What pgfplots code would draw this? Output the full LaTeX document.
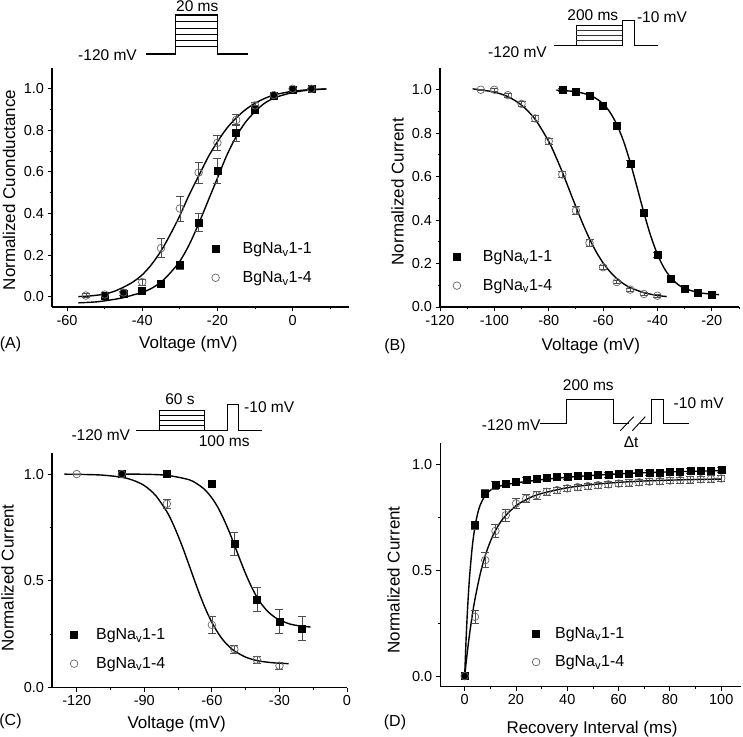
\documentclass[border=0pt]{standalone}
\usepackage{pgfplots}
\pgfplotsset{compat=1.18}
\usepackage{fontspec}
\setmainfont{Liberation Sans}

\newcommand{\fA}{\fontsize{14.5}{16}\selectfont}
\newcommand{\fT}{\fontsize{17}{20}\selectfont}
\newcommand{\fL}{\fontsize{16}{19}\selectfont}
\newcommand{\fP}{\fontsize{15.5}{18}\selectfont}

\pgfplotsset{
  panel/.style={
    scale only axis,
    anchor=south west,
    axis x line*=bottom, axis y line*=left,
    tick align=outside,
    major tick length=4.5pt, minor tick length=2.5pt,
    axis line style={line width=1.1pt},
    every tick/.style={line width=0.9pt, black},
    tick label style={font=\fA},
    /pgf/number format/assume math mode=true,
    y tick label style={/pgf/number format/.cd, fixed, fixed zerofill, precision=1, /tikz/.cd},
    legend style={draw=none, fill=none, inner sep=0pt, outer sep=0pt, row sep=14pt,
      nodes={inner sep=1pt, font=\fL}},
    legend cell align=left,
  },
  sq/.style={only marks, mark=square*, mark size=3.5pt, black, mark options={fill=black, draw=black, line width=0.5pt},
    legend image code/.code={\path[draw=none, fill=none] (-5pt,-3pt) (#1,3pt);
      \draw[mark repeat=2,mark phase=2,##1] plot coordinates {(-5pt,0pt) (0pt,0pt) (#1,0pt)};},
    error bars/.cd, y dir=both, y explicit, error bar style={line width=0.6pt, black!70},
    error mark options={rotate=90, mark size=4pt, line width=0.6pt, black!70}},
  ci/.style={only marks, mark=o, mark size=3.8pt, black!60, mark options={draw=black!60, line width=0.7pt},
    legend image code/.code={\path[draw=none, fill=none] (-5pt,-3pt) (#1,3pt);
      \draw[mark repeat=2,mark phase=2,##1] plot coordinates {(-5pt,0pt) (0pt,0pt) (#1,0pt)};},
    error bars/.cd, y dir=both, y explicit, error bar style={line width=0.6pt, black!70},
    error mark options={rotate=90, mark size=4pt, line width=0.6pt, black!70}},
  fit/.style={black, line width=1.4pt, no marks, smooth, forget plot},
}

\begin{document}
\begin{tikzpicture}
\path[use as bounding box] (0,0) rectangle (743pt,736pt);

% ================= Panel A =================
\begin{axis}[panel, at={(52pt,429pt)}, width=297pt, height=239pt,
  xmin=-64, xmax=15, ymin=-0.05, ymax=1.1,
  xtick={-60,-40,-20,0}, minor xtick={-50,-30,-10,10},
  ytick={0,0.2,0.4,0.6,0.8,1.0}, minor ytick={0.1,0.3,0.5,0.7,0.9},
  legend style={at={(rel axis cs:0.534,0.182)}, anchor=west}]
\addplot[fit] coordinates {(-57,-0.03) (-52,-0.025) (-48,-0.015) (-45,-0.005) (-42,0.01) (-40,0.02) (-37.5,0.04) (-35,0.07) (-32.5,0.115) (-30,0.17) (-27.5,0.25) (-25,0.35) (-22.5,0.46) (-20,0.57) (-17.5,0.68) (-15,0.77) (-12.5,0.84) (-10,0.89) (-7.5,0.93) (-5,0.955) (-2.5,0.97) (0,0.982) (3,0.991) (6,0.996) (9,0.999)};
\addplot[fit] coordinates {(-57,0.0) (-54,0.003) (-50,0.012) (-47.5,0.025) (-45,0.045) (-42.5,0.07) (-40,0.105) (-37.5,0.155) (-35,0.22) (-32.5,0.30) (-30,0.39) (-27.5,0.49) (-25,0.58) (-22.5,0.67) (-20,0.745) (-17.5,0.81) (-15,0.86) (-12.5,0.90) (-10,0.93) (-7.5,0.953) (-5,0.97) (-2.5,0.98) (0,0.988) (4,0.995) (9,0.999)};
\addplot[sq=26pt] table[x=x, y=y, y error=e] {
x y e
-50 0.006 0.005
-45 0.016 0.008
-40 0.027 0.01
-35 0.064 0.012
-30 0.152 0.02
-25 0.357 0.045
-20 0.604 0.06
-15 0.789 0.04
-10 0.900 0.02
-5 0.965 0.01
0 0.995 0.005
5 0.998 0.003
};
\addlegendentry{BgNa\textsubscript{v}1-1}
\addplot[ci=26pt] table[x=x, y=y, y error=e] {
x y e
-55 0.005 0.01
-50 0.01 0.012
-45 0.02 0.015
-40 0.07 0.015
-35 0.233 0.046
-30 0.424 0.06
-25 0.597 0.05
-20 0.74 0.035
-15 0.85 0.025
-10 0.92 0.015
-5 0.97 0.01
0 1.0 0.005
5 1.0 0.003
};
\addlegendentry{BgNa\textsubscript{v}1-4}
\end{axis}

% ================= Panel B =================
\begin{axis}[panel, at={(440pt,429pt)}, width=299pt, height=239pt,
  xmin=-120, xmax=-10, ymin=0, ymax=1.1,
  xtick={-120,-100,-80,-60,-40,-20}, minor xtick={-110,-90,-70,-50,-30,-10},
  ytick={0,0.2,0.4,0.6,0.8,1.0}, minor ytick={0.1,0.3,0.5,0.7,0.9},
  legend style={at={(rel axis cs:0.040,0.149)}, anchor=west}]
\addplot[fit] coordinates {(-108,1.004) (-105,0.999) (-100,0.989) (-95,0.968) (-90,0.929) (-85,0.864) (-80,0.762) (-77.5,0.695) (-75,0.621) (-72.5,0.541) (-70,0.461) (-67.5,0.384) (-65,0.314) (-62.5,0.253) (-60,0.203) (-57.5,0.163) (-55,0.131) (-52.5,0.107) (-50,0.089) (-45,0.066) (-40,0.053) (-36.6,0.048)};
\addplot[fit] coordinates {(-77.2,0.998) (-70,0.991) (-65,0.975) (-62.5,0.959) (-60,0.935) (-57.5,0.897) (-55,0.841) (-52.5,0.764) (-50,0.665) (-47.5,0.551) (-45,0.434) (-42.5,0.328) (-40,0.242) (-37.5,0.178) (-35,0.134) (-32.5,0.104) (-30,0.0855) (-25,0.0665) (-20,0.059) (-17.3,0.057)};
\addplot[sq=25pt] table[x=x, y=y, y error=e] {
x y e
-75 1.0 0.005
-70 0.99 0.008
-65 0.974 0.01
-60 0.924 0.01
-55 0.832 0.012
-50 0.659 0.015
-45 0.433 0.015
-40 0.241 0.012
-35 0.13 0.01
-30 0.083 0.008
-25 0.065 0.006
-20 0.057 0.005
};
\addlegendentry{BgNa\textsubscript{v}1-1}
\addplot[ci=25pt] table[x=x, y=y, y error=e] {
x y e
-105 1.0 0.004
-100 1.0 0.005
-95 0.975 0.008
-90 0.935 0.012
-85 0.868 0.014
-80 0.763 0.015
-75 0.61 0.015
-70 0.444 0.018
-65 0.295 0.015
-60 0.183 0.01
-55 0.115 0.008
-50 0.08 0.007
-45 0.06 0.006
-40 0.052 0.006
};
\addlegendentry{BgNa\textsubscript{v}1-4}
\end{axis}

% ================= Panel C =================
\begin{axis}[panel, at={(52pt,48.3pt)}, width=295pt, height=235pt,
  xmin=-131, xmax=0, ymin=0, ymax=1.1,
  xtick={-120,-90,-60,-30,0}, minor xtick={-105,-75,-45,-15},
  ytick={0,0.5,1.0}, minor ytick={0.25,0.75},
  legend style={at={(rel axis cs:0.058,0.163)}, anchor=west}]
\addplot[fit] coordinates {(-101.5,1.0) (-90,0.999) (-80,0.994) (-70,0.973) (-65,0.943) (-62.5,0.92) (-60,0.888) (-57.5,0.847) (-55,0.795) (-52.5,0.735) (-50,0.668) (-47.5,0.599) (-45,0.533) (-42.5,0.474) (-40,0.424) (-37.5,0.385) (-35,0.355) (-32.5,0.333) (-30,0.317) (-25,0.297) (-20,0.288) (-16.2,0.284)};
\addplot[fit] coordinates {(-125.5,0.9995) (-110,0.996) (-100,0.985) (-95,0.971) (-90,0.946) (-85,0.90) (-80,0.824) (-77.5,0.772) (-75,0.711) (-72.5,0.643) (-70,0.57) (-67.5,0.496) (-65,0.425) (-62.5,0.361) (-60,0.306) (-57.5,0.26) (-55,0.2225) (-52.5,0.194) (-50,0.172) (-45,0.143) (-40,0.127) (-35,0.119) (-30,0.1146) (-25.9,0.1127)};
\addplot[sq=21pt] table[x=x, y=y, y error=e] {
x y e
-100 1.0 0.008
-80 1.0 0.005
-60 0.953 0.0
-50 0.674 0.053
-40 0.414 0.055
-30 0.31 0.055
-20 0.278 0.055
};
\addlegendentry{BgNa\textsubscript{v}1-1}
\addplot[ci=21pt] table[x=x, y=y, y error=e] {
x y e
-120 1.0 0.0
-100 1.0 0.0
-80 0.861 0.02
-60 0.294 0.038
-50 0.18 0.02
-40 0.13 0.015
-30 0.103 0.015
};
\addlegendentry{BgNa\textsubscript{v}1-4}
\end{axis}

% ================= Panel D =================
\begin{axis}[panel, at={(440.3pt,49.3pt)}, width=300.7pt, height=243.4pt,
  xmin=-9.5, xmax=107.7, ymin=-0.05, ymax=1.1,
  xtick={0,20,40,60,80,100}, minor xtick={10,30,50,70,90},
  ytick={0,0.5,1.0}, minor ytick={0.25,0.75},
  legend style={at={(rel axis cs:0.302,0.16)}, anchor=west}]
\addplot[fit] coordinates {(0,0) (0.5,0.159) (1,0.290) (1.5,0.397) (2,0.484) (3,0.616) (4,0.705) (5,0.765) (6,0.807) (8,0.854) (10,0.878) (12,0.891) (15,0.902) (20,0.913) (30,0.928) (40,0.9395) (50,0.9485) (60,0.9555) (70,0.961) (80,0.965) (90,0.968) (100,0.971)};
\addplot[fit] coordinates {(0,0) (1,0.111) (2,0.207) (3,0.291) (4,0.363) (6,0.480) (8,0.569) (10,0.636) (12,0.688) (15,0.745) (20,0.805) (25,0.8405) (30,0.863) (40,0.890) (50,0.9055) (60,0.9155) (70,0.922) (80,0.926) (90,0.929) (100,0.931)};
\addplot[sq=18pt] table[x=x, y=y, y error=e] {
x y e
0 0.0 0.005
4 0.713 0.02
8 0.863 0.02
12 0.902 0.018
16 0.91 0.015
20 0.918 0.015
24 0.926 0.015
28 0.934 0.015
32 0.938 0.012
36 0.942 0.012
40 0.944 0.012
44 0.946 0.012
48 0.948 0.012
52 0.95 0.012
56 0.952 0.012
60 0.955 0.012
64 0.957 0.012
68 0.96 0.012
72 0.961 0.012
76 0.963 0.012
80 0.965 0.012
84 0.967 0.012
88 0.968 0.012
92 0.97 0.012
96 0.971 0.012
100 0.973 0.012
};
\addlegendentry{BgNa\textsubscript{v}1-1}
\addplot[ci=18pt] table[x=x, y=y, y error=e] {
x y e
0 0.0 0.005
4 0.28 0.03
8 0.548 0.035
12 0.686 0.03
16 0.76 0.03
20 0.816 0.025
24 0.839 0.02
28 0.855 0.018
32 0.871 0.015
36 0.879 0.015
40 0.887 0.015
44 0.893 0.015
48 0.898 0.015
52 0.902 0.015
56 0.906 0.015
60 0.91 0.015
64 0.913 0.015
68 0.916 0.015
72 0.919 0.015
76 0.921 0.015
80 0.924 0.015
84 0.926 0.015
88 0.928 0.015
92 0.93 0.015
96 0.932 0.015
100 0.934 0.015
};
\addlegendentry{BgNa\textsubscript{v}1-4}
\end{axis}

% ================= Labels and protocols (pixel coordinates, y downwards) =================
\begin{scope}[shift={(0pt,736pt)}, x=1pt, y=-1pt]
  % axis titles
  \node[rotate=90, inner sep=0pt, font=\fT] at (9,190) {Normalized Cuonductance};
  \node[rotate=90, inner sep=0pt, font=\fT] at (397.5,191.7) {Normalized Current};
  \node[rotate=90, inner sep=0pt, font=\fT] at (7.5,578) {Normalized Current};
  \node[rotate=90, inner sep=0pt, font=\fT] at (393.5,580) {Normalized Current};
  \node[inner sep=0pt, font=\fT] at (188.3,344) {Voltage (mV)};
  \node[inner sep=0pt, font=\fT] at (590.8,346) {Voltage (mV)};
  \node[inner sep=0pt, font=\fT] at (176.7,724) {Voltage (mV)};
  \node[inner sep=0pt, font=\fT] at (592,729) {Recovery Interval (ms)};
  % panel letters
  \node[inner sep=0pt, font=\fL] at (10.5,344) {(A)};
  \node[inner sep=0pt, font=\fL] at (395,346) {(B)};
  \node[inner sep=0pt, font=\fL] at (10.5,721) {(C)};
  \node[inner sep=0pt, font=\fL] at (395,722) {(D)};

  % protocol A
  \draw[line width=1.2pt] (145.7,54) -- (175.7,54) -- (175.7,15) -- (217.3,15) -- (217.3,54) -- (248.3,54);
  \foreach \yy in {21.7,28.3,34.3,40.7,46.7} \draw[line width=1pt] (175.7,\yy) -- (217.3,\yy);
  \node[inner sep=0pt, font=\fP, anchor=east] at (137,55.5) {-120 mV};
  \node[inner sep=0pt, font=\fP] at (197.3,6.3) {20 ms};

  % protocol B
  \draw[line width=1pt] (554.3,46) -- (576,46) -- (576,25.7) -- (622,25.7);
  \draw[line width=1pt] (576,46) -- (622,46);
  \draw[line width=1pt] (622,46) -- (622,20.7) -- (634.7,20.7) -- (634.7,46) -- (657.7,46);
  \foreach \yy in {30.7,35.7,40.7} \draw[line width=0.9pt, black!80] (576,\yy) -- (622,\yy);
  \node[inner sep=0pt, font=\fP, anchor=east] at (547,51.7) {-120 mV};
  \node[inner sep=0pt, font=\fP] at (592.8,15.3) {200 ms};
  \node[inner sep=0pt, font=\fP] at (662,17) {-10 mV};

  % protocol C
  \draw[line width=1pt] (136,430.3) -- (159,430.3) -- (159,410.7) -- (204,410.7) -- (204,430.3) -- (227.3,430.3) -- (227.3,405) -- (238.3,405) -- (238.3,430.3) -- (261.7,430.3);
  \draw[line width=1pt] (159,430.3) -- (204,430.3);
  \foreach \yy in {415.7,420.7,425.7} \draw[line width=0.9pt] (159,\yy) -- (204,\yy);
  \node[inner sep=0pt, font=\fP] at (100.8,435) {-120 mV};
  \node[inner sep=0pt, font=\fP] at (180,399) {60 s};
  \node[inner sep=0pt, font=\fP] at (224.2,441) {100 ms};
  \node[inner sep=0pt, font=\fP] at (269.2,406.7) {-10 mV};

  % protocol D
  \draw[line width=1pt] (540.3,423.3) -- (566.3,423.3) -- (566.3,399.3) -- (613.7,399.3) -- (613.7,423.3) -- (628.7,423.3);
  \draw[line width=0.9pt] (620.3,430.7) -- (633.7,416.7);
  \draw[line width=0.9pt] (632.3,430.7) -- (645.3,416.7);
  \draw[line width=1pt] (640,423.3) -- (651.3,423.3) -- (651.3,399.3) -- (663.7,399.3) -- (663.7,423.3) -- (688.7,423.3);
  \node[inner sep=0pt, font=\fP] at (511.2,424.7) {-120 mV};
  \node[inner sep=0pt, font=\fP] at (588.3,385.3) {200 ms};
  \node[inner sep=0pt, font=\fP] at (698.7,403.3) {-10 mV};
  \node[inner sep=0pt, font=\fP] at (631.2,442) {Δt};
\end{scope}
\end{tikzpicture}
\end{document}
